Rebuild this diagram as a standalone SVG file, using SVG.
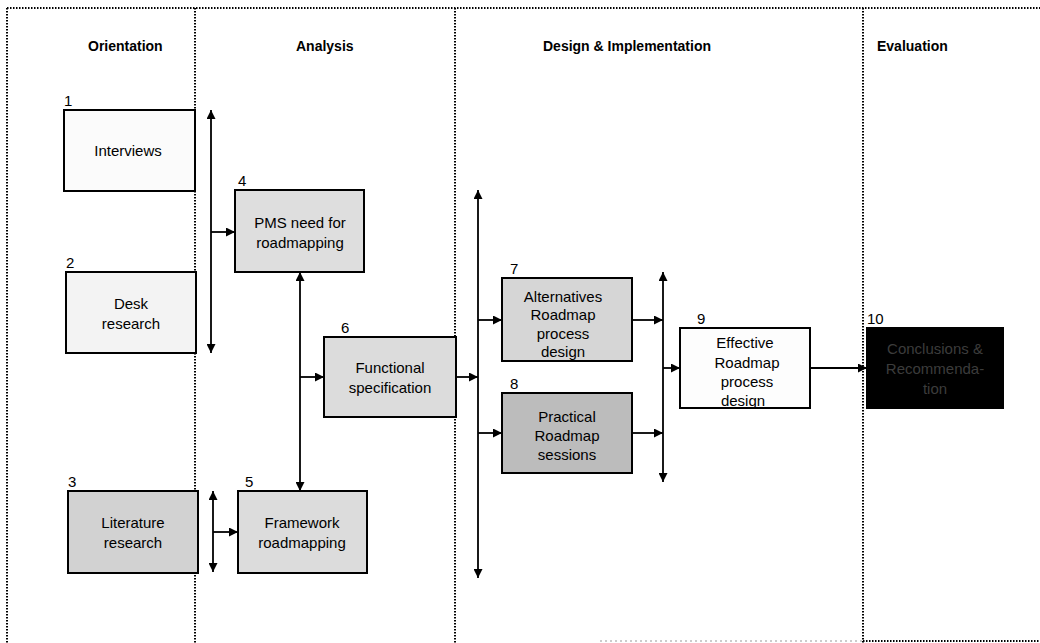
<svg xmlns="http://www.w3.org/2000/svg" width="1040" height="643" viewBox="0 0 1040 643">
  <style>
    .lane { stroke: #000; stroke-width: 2; stroke-dasharray: 1.5 1.5; fill: none; }
    .lane-faint { stroke: #999; stroke-width: 1; stroke-dasharray: 2 3; fill: none; }
    .hdr { font-family: "Liberation Sans", Arial, sans-serif; font-weight: bold; font-size: 14px; fill: #000; }
    .box { stroke: #000; stroke-width: 2; }
    .lbl { font-family: "Liberation Sans", Arial, sans-serif; font-size: 15px; fill: #000; text-anchor: middle; }
    .num { font-family: "Liberation Sans", Arial, sans-serif; font-size: 15px; fill: #000; }
    .dim { fill: #3c3c3c; }
    .conn { stroke: #000; stroke-width: 1.8; fill: none; }
  </style>
  <defs>
    <marker id="head" viewBox="0 0 10 10" refX="10" refY="5" markerWidth="10" markerHeight="9" markerUnits="userSpaceOnUse" orient="auto-start-reverse">
      <path d="M0,0 L10,5 L0,10 Z" fill="#000"/>
    </marker>
  </defs>

  <rect width="1040" height="643" fill="#fff"/>

  <!-- swimlane frame -->
  <g id="lanes">
    <line class="lane" x1="7" y1="8" x2="1040" y2="8"/>
    <line class="lane" x1="7" y1="8" x2="7" y2="643"/>
    <line class="lane" x1="195" y1="8" x2="195" y2="643"/>
    <line class="lane" x1="455" y1="8" x2="455" y2="643"/>
    <line class="lane" x1="863" y1="8" x2="863" y2="643"/>
    <line class="lane-faint" x1="600" y1="641" x2="863" y2="641"/>
    <line class="lane" x1="863" y1="641" x2="1040" y2="641"/>
    <text class="hdr" x="88" y="51">Orientation</text>
    <text class="hdr" x="296" y="51">Analysis</text>
    <text class="hdr" x="543" y="51">Design &amp; Implementation</text>
    <text class="hdr" x="877" y="51">Evaluation</text>
  </g>

  <!-- connectors -->
  <g id="connectors">
    <line class="conn" x1="211" y1="110" x2="211" y2="353" marker-start="url(#head)" marker-end="url(#head)"/>
    <line class="conn" x1="211" y1="232" x2="235" y2="232" marker-end="url(#head)"/>
    <line class="conn" x1="300" y1="272" x2="300" y2="491" marker-start="url(#head)" marker-end="url(#head)"/>
    <line class="conn" x1="300" y1="377" x2="324" y2="377" marker-end="url(#head)"/>
    <line class="conn" x1="213" y1="491" x2="213" y2="572" marker-start="url(#head)" marker-end="url(#head)"/>
    <line class="conn" x1="213" y1="532" x2="238" y2="532" marker-end="url(#head)"/>
    <line class="conn" x1="456" y1="377" x2="478" y2="377" marker-end="url(#head)"/>
    <line class="conn" x1="478" y1="190" x2="478" y2="578" marker-start="url(#head)" marker-end="url(#head)"/>
    <line class="conn" x1="478" y1="320" x2="502" y2="320" marker-end="url(#head)"/>
    <line class="conn" x1="478" y1="433" x2="502" y2="433" marker-end="url(#head)"/>
    <line class="conn" x1="632" y1="320" x2="663" y2="320" marker-end="url(#head)"/>
    <line class="conn" x1="632" y1="433" x2="663" y2="433" marker-end="url(#head)"/>
    <line class="conn" x1="663" y1="272" x2="663" y2="482" marker-start="url(#head)" marker-end="url(#head)"/>
    <line class="conn" x1="663" y1="368" x2="680" y2="368" marker-end="url(#head)"/>
    <line class="conn" x1="810" y1="368" x2="867" y2="368" marker-end="url(#head)"/>
  </g>

  <g id="n1">
    <text class="num" x="64" y="106">1</text>
    <rect class="box" x="64" y="110" width="131" height="81" fill="#fbfbfb"/>
    <text class="lbl" x="128" y="156">Interviews</text>
  </g>
  <g id="n2">
    <text class="num" x="66" y="268">2</text>
    <rect class="box" x="66" y="272" width="130" height="81" fill="#f3f3f3"/>
    <text class="lbl" x="131" y="309">Desk</text>
    <text class="lbl" x="131" y="329">research</text>
  </g>
  <g id="n3">
    <text class="num" x="68" y="487">3</text>
    <rect class="box" x="68" y="491" width="130" height="82" fill="#d2d2d2"/>
    <text class="lbl" x="133" y="528">Literature</text>
    <text class="lbl" x="133" y="548">research</text>
  </g>
  <g id="n4">
    <text class="num" x="238" y="186">4</text>
    <rect class="box" x="235" y="190" width="129" height="82" fill="#dedede"/>
    <text class="lbl" x="300" y="228">PMS need for</text>
    <text class="lbl" x="300" y="248">roadmapping</text>
  </g>
  <g id="n5">
    <text class="num" x="245" y="487">5</text>
    <rect class="box" x="238" y="491" width="129" height="82" fill="#dcdcdc"/>
    <text class="lbl" x="302" y="528">Framework</text>
    <text class="lbl" x="302" y="548">roadmapping</text>
  </g>
  <g id="n6">
    <text class="num" x="341" y="333">6</text>
    <rect class="box" x="324" y="337" width="132" height="80" fill="#dcdcdc"/>
    <text class="lbl" x="390" y="373">Functional</text>
    <text class="lbl" x="390" y="393">specification</text>
  </g>
  <g id="n7">
    <text class="num" x="510" y="274">7</text>
    <rect class="box" x="502" y="278" width="130" height="83" fill="#d6d6d6"/>
    <text class="lbl" x="563" y="302">Alternatives</text>
    <text class="lbl" x="563" y="320">Roadmap</text>
    <text class="lbl" x="563" y="339">process</text>
    <text class="lbl" x="563" y="357">design</text>
  </g>
  <g id="n8">
    <text class="num" x="510" y="389">8</text>
    <rect class="box" x="502" y="393" width="130" height="80" fill="#bcbcbc"/>
    <text class="lbl" x="567" y="422">Practical</text>
    <text class="lbl" x="567" y="441">Roadmap</text>
    <text class="lbl" x="567" y="460">sessions</text>
  </g>
  <g id="n9">
    <text class="num" x="697" y="324">9</text>
    <rect class="box" x="680" y="328" width="130" height="80" fill="#fdfdfd"/>
    <text class="lbl" x="745" y="348">Effective</text>
    <text class="lbl" x="747" y="368">Roadmap</text>
    <text class="lbl" x="747" y="387">process</text>
    <text class="lbl" x="743" y="406">design</text>
  </g>
  <g id="n10">
    <text class="num" x="867" y="324">10</text>
    <rect class="box" x="867" y="328" width="136" height="80" fill="#000"/>
    <text class="lbl dim" x="935" y="354">Conclusions &amp;</text>
    <text class="lbl dim" x="935" y="374">Recommenda-</text>
    <text class="lbl dim" x="935" y="394">tion</text>
  </g>
</svg>
